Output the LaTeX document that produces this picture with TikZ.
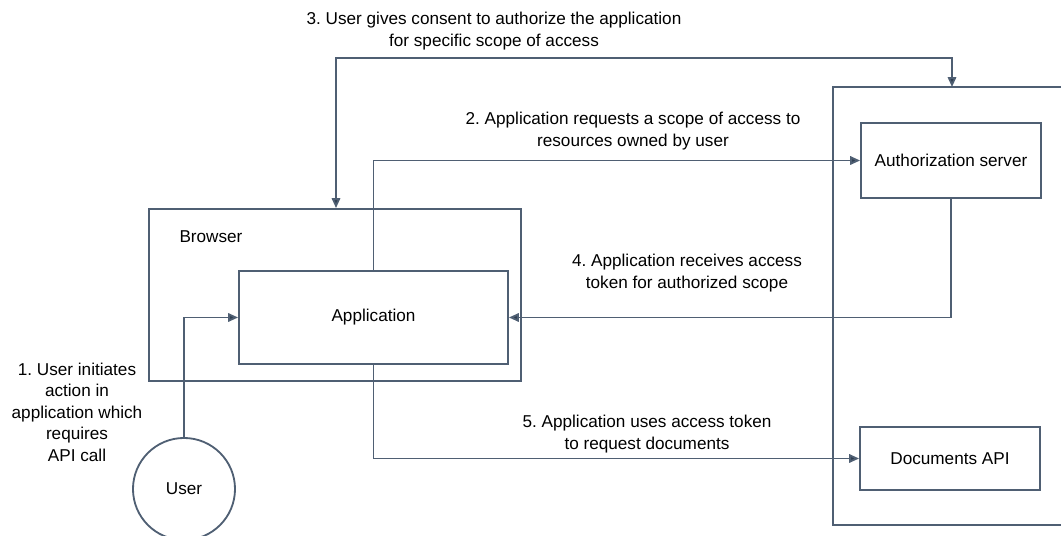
\documentclass[tikz,border=0pt]{standalone}
\usepackage{fontspec}
\setmainfont{Liberation Sans}
\usetikzlibrary{arrows.meta}
\frenchspacing

\definecolor{linegray}{HTML}{4F5F73}
\definecolor{tipgray}{HTML}{2E3D50}

\begin{document}
\begin{tikzpicture}[
			x=0.025cm, y=-0.025cm,
			every node/.style={font=\fontsize{12.2}{15.3}\selectfont, text=black},
			box/.style={draw=linegray, line width=1.3pt, inner sep=0pt},
			flow/.style={draw=linegray, line width=1.3pt, -{Triangle[length=7pt, width=6pt, fill=tipgray]}},
			lbl/.style={align=center, inner sep=0pt}
			]
			\clip (0,0) rectangle (1061,536);
			
			\node[box, minimum width=9.3cm, minimum height=4.3cm] (browser) at (335,295) {};
			\node[anchor=center] (browserlbl) at (211,237) {Browser};
			\node[box, fill=white, minimum width=6.725cm, minimum height=2.325cm] (app) at (373.5,317.5) {Application};
			\node[box, circle, minimum size=2.55cm] (user) at (184,489) {User};
			
			\draw[draw=linegray, line width=1.3pt] (1061,87) -- (833,87) -- (833,525) -- (1061,525);
			\coordinate (srvtop) at (952,87);
			\node[box, minimum width=4.5cm, minimum height=1.875cm] (auth) at (951,160.5) {Authorization server};
			\node[box, minimum width=4.5cm, minimum height=1.575cm] (docs) at (950,458.5) {Documents API};
			
			\coordinate (c3) at (336,58);
			
			\draw[flow] (user.north) -- (user.north |- app.west) -- (app.west);
			\draw[flow] (app.north) |- (auth.west);
			\draw[flow, {Triangle[length=7pt, width=6pt, fill=tipgray]}-{Triangle[length=7pt, width=6pt, fill=tipgray]}] (browser.north -| c3) -- (c3) -| (srvtop);
			\draw[flow] (auth.south) |- (app.east);
			\draw[flow] (app.south) |- (docs.west);
			
			\node[lbl] (l1) at (77,412) {1. User initiates\\action in\\application which\\requires\\API call};
			\node[lbl] (l2) at (633,131) {2. Application requests a scope of access to\\resources owned by user};
			\node[lbl] (l3) at (494,31) {3. User gives consent to authorize the application\\for specific scope of access};
			\node[lbl] (l4) at (687,273) {4. Application receives access\\token for authorized scope};
			\node[lbl] (l5) at (647,434) {5. Application uses access token\\to request documents};
		\end{tikzpicture}
\end{document}
